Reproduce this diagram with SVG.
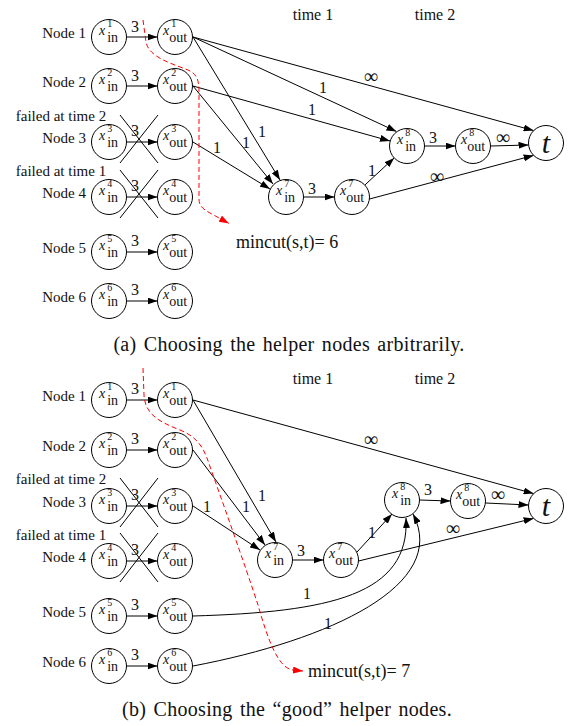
<svg xmlns="http://www.w3.org/2000/svg" width="574" height="726" viewBox="0 0 574 726">
<style>
text{font-family:"Liberation Serif","Times New Roman",serif;fill:#111}
.n circle{fill:#fff;stroke:#000;stroke-width:1}
.v{font-style:italic;font-size:14px}
.sp{font-size:10px}
.sb{font-size:14px}
.tt{font-style:italic;font-size:30px;text-anchor:middle}
.lr{font-size:15px;text-anchor:end}
.lm{font-size:15px;text-anchor:middle}
.tm{font-size:16px;text-anchor:middle}
.el{font-size:16px;text-anchor:middle}
.inf{font-size:20px;text-anchor:middle}
.mc{font-size:18px}
.cap{font-size:20px;text-anchor:middle;letter-spacing:0.3px;word-spacing:2px}
.e{fill:none;stroke:#000;stroke-width:1;marker-end:url(#ah)}
.x{stroke:#000;stroke-width:1}
.cut{fill:none;stroke:#f00;stroke-width:1;stroke-dasharray:5 3;marker-end:url(#rh)}
</style>
<defs>
<marker id="ah" markerUnits="userSpaceOnUse" markerWidth="10" markerHeight="7" refX="10" refY="3.5" orient="auto"><path d="M0,0 L10,3.5 L0,7 z" fill="#000"/></marker>
<marker id="rh" markerUnits="userSpaceOnUse" markerWidth="10" markerHeight="7" refX="10" refY="3.5" orient="auto"><path d="M0,0 L10,3.5 L0,7 z" fill="#f00"/></marker>
</defs>
<rect width="574" height="726" fill="#fff"/>

<!-- ===== Panel (a) ===== -->
<g id="a-labels">
<text class="tm" x="313" y="20">time 1</text>
<text class="tm" x="435" y="20">time 2</text>
<text class="lr" x="86" y="38">Node 1</text>
<text class="lr" x="86" y="87">Node 2</text>
<text class="lm" x="61" y="121">failed at time 2</text>
<text class="lr" x="86" y="143">Node 3</text>
<text class="lm" x="61" y="176">failed at time 1</text>
<text class="lr" x="86" y="198">Node 4</text>
<text class="lr" x="86" y="253">Node 5</text>
<text class="lr" x="86" y="302">Node 6</text>
<text class="mc" x="236" y="248">mincut(s,t)= 6</text>
<text class="cap" x="289" y="351">(a) Choosing the helper nodes arbitrarily.</text>
</g>

<g id="a-connectors">
<line class="e" x1="126.5" y1="37" x2="157.5" y2="37"/>
<line class="e" x1="126.5" y1="86" x2="157.5" y2="86"/>
<line class="e" x1="126.5" y1="142" x2="157.5" y2="142"/>
<line class="e" x1="126.5" y1="197" x2="157.5" y2="197"/>
<line class="e" x1="126.5" y1="252" x2="157.5" y2="252"/>
<line class="e" x1="126.5" y1="301" x2="157.5" y2="301"/>
<line class="e" x1="193" y1="37" x2="280" y2="180"/>
<line class="e" x1="193" y1="37" x2="396.5" y2="131.5"/>
<line class="e" x1="193" y1="37" x2="533.6" y2="130.6"/>
<line class="e" x1="193" y1="86" x2="273" y2="184"/>
<line class="e" x1="193" y1="86" x2="390" y2="141"/>
<line class="e" x1="193" y1="142" x2="270" y2="189"/>
<line class="e" x1="303.5" y1="197" x2="334.5" y2="197"/>
<line class="e" x1="364.8" y1="185.1" x2="394.2" y2="157.9"/>
<line class="e" x1="369.5" y1="199" x2="533.6" y2="155.4"/>
<line class="e" x1="424.5" y1="146" x2="455.5" y2="146"/>
<line class="e" x1="490.5" y1="146" x2="528.5" y2="145"/>
<line class="x" x1="120" y1="115" x2="158" y2="163"/>
<line class="x" x1="158" y1="115" x2="120" y2="163"/>
<line class="x" x1="120" y1="170" x2="158" y2="218"/>
<line class="x" x1="158" y1="170" x2="120" y2="218"/>
<path class="cut" d="M143,20 L146,42 C149,57 170,63 188,70 C197,74 199,80 199,92 L199,199 C199,206 203,209 210,213 L229,223.5"/>
<text class="el" x="135" y="32">3</text>
<text class="el" x="135" y="81">3</text>
<text class="el" x="135" y="136">3</text>
<text class="el" x="135" y="191">3</text>
<text class="el" x="135" y="246">3</text>
<text class="el" x="135" y="295">3</text>
<text class="inf" x="371" y="83">∞</text>
<text class="el" x="323" y="92.5">1</text>
<text class="el" x="262" y="136.5">1</text>
<text class="el" x="312" y="114.5">1</text>
<text class="el" x="246" y="147.5">1</text>
<text class="el" x="217" y="152.5">1</text>
<text class="el" x="312" y="193.5">3</text>
<text class="el" x="372" y="175.5">1</text>
<text class="inf" x="437" y="183">∞</text>
<text class="el" x="433" y="142.5">3</text>
<text class="inf" x="503" y="144">∞</text>
</g>

<g id="a-in1" class="n"><circle cx="109" cy="37" r="17.5"/><text x="99" y="35"><tspan class="v">x</tspan><tspan class="sp" dx="2" dy="-8">1</tspan><tspan class="sb" dx="-5" dy="15">in</tspan></text></g>
<g id="a-out1" class="n"><circle cx="175" cy="37" r="17.5"/><text x="163" y="35"><tspan class="v">x</tspan><tspan class="sp" dx="2" dy="-8">1</tspan><tspan class="sb" dx="-7" dy="15">out</tspan></text></g>
<g id="a-in2" class="n"><circle cx="109" cy="86" r="17.5"/><text x="99" y="84"><tspan class="v">x</tspan><tspan class="sp" dx="2" dy="-8">2</tspan><tspan class="sb" dx="-5" dy="15">in</tspan></text></g>
<g id="a-out2" class="n"><circle cx="175" cy="86" r="17.5"/><text x="163" y="84"><tspan class="v">x</tspan><tspan class="sp" dx="2" dy="-8">2</tspan><tspan class="sb" dx="-7" dy="15">out</tspan></text></g>
<g id="a-in3" class="n"><circle cx="109" cy="142" r="17.5"/><text x="99" y="140"><tspan class="v">x</tspan><tspan class="sp" dx="2" dy="-8">3</tspan><tspan class="sb" dx="-5" dy="15">in</tspan></text></g>
<g id="a-out3" class="n"><circle cx="175" cy="142" r="17.5"/><text x="163" y="140"><tspan class="v">x</tspan><tspan class="sp" dx="2" dy="-8">3</tspan><tspan class="sb" dx="-7" dy="15">out</tspan></text></g>
<g id="a-in4" class="n"><circle cx="109" cy="197" r="17.5"/><text x="99" y="195"><tspan class="v">x</tspan><tspan class="sp" dx="2" dy="-8">4</tspan><tspan class="sb" dx="-5" dy="15">in</tspan></text></g>
<g id="a-out4" class="n"><circle cx="175" cy="197" r="17.5"/><text x="163" y="195"><tspan class="v">x</tspan><tspan class="sp" dx="2" dy="-8">4</tspan><tspan class="sb" dx="-7" dy="15">out</tspan></text></g>
<g id="a-in5" class="n"><circle cx="109" cy="252" r="17.5"/><text x="99" y="250"><tspan class="v">x</tspan><tspan class="sp" dx="2" dy="-8">5</tspan><tspan class="sb" dx="-5" dy="15">in</tspan></text></g>
<g id="a-out5" class="n"><circle cx="175" cy="252" r="17.5"/><text x="163" y="250"><tspan class="v">x</tspan><tspan class="sp" dx="2" dy="-8">5</tspan><tspan class="sb" dx="-7" dy="15">out</tspan></text></g>
<g id="a-in6" class="n"><circle cx="109" cy="301" r="17.5"/><text x="99" y="299"><tspan class="v">x</tspan><tspan class="sp" dx="2" dy="-8">6</tspan><tspan class="sb" dx="-5" dy="15">in</tspan></text></g>
<g id="a-out6" class="n"><circle cx="175" cy="301" r="17.5"/><text x="163" y="299"><tspan class="v">x</tspan><tspan class="sp" dx="2" dy="-8">6</tspan><tspan class="sb" dx="-7" dy="15">out</tspan></text></g>
<g id="a-in7" class="n"><circle cx="286" cy="197" r="17.5"/><text x="276" y="195"><tspan class="v">x</tspan><tspan class="sp" dx="2" dy="-8">7</tspan><tspan class="sb" dx="-5" dy="15">in</tspan></text></g>
<g id="a-out7" class="n"><circle cx="352" cy="197" r="17.5"/><text x="340" y="195"><tspan class="v">x</tspan><tspan class="sp" dx="2" dy="-8">7</tspan><tspan class="sb" dx="-7" dy="15">out</tspan></text></g>
<g id="a-in8" class="n"><circle cx="407" cy="146" r="17.5"/><text x="397" y="144"><tspan class="v">x</tspan><tspan class="sp" dx="2" dy="-8">8</tspan><tspan class="sb" dx="-5" dy="15">in</tspan></text></g>
<g id="a-out8" class="n"><circle cx="473" cy="146" r="17.5"/><text x="461" y="144"><tspan class="v">x</tspan><tspan class="sp" dx="2" dy="-8">8</tspan><tspan class="sb" dx="-7" dy="15">out</tspan></text></g>
<g id="a-t" class="n"><circle cx="546" cy="143" r="17.5"/><text class="tt" x="546" y="153">t</text></g>

<!-- ===== Panel (b) ===== -->
<g id="b-labels">
<text class="tm" x="313" y="384">time 1</text>
<text class="tm" x="435" y="384">time 2</text>
<text class="lr" x="86" y="401">Node 1</text>
<text class="lr" x="86" y="451">Node 2</text>
<text class="lm" x="61" y="484">failed at time 2</text>
<text class="lr" x="86" y="507">Node 3</text>
<text class="lm" x="61" y="540">failed at time 1</text>
<text class="lr" x="86" y="562">Node 4</text>
<text class="lr" x="86" y="617">Node 5</text>
<text class="lr" x="86" y="667">Node 6</text>
<text class="mc" x="308" y="677">mincut(s,t)= 7</text>
<text class="cap" x="287" y="716">(b) Choosing the “good” helper nodes.</text>
</g>

<g id="b-connectors">
<line class="e" x1="126.5" y1="400" x2="157.5" y2="400"/>
<line class="e" x1="126.5" y1="450" x2="157.5" y2="450"/>
<line class="e" x1="126.5" y1="506" x2="157.5" y2="506"/>
<line class="e" x1="126.5" y1="561" x2="157.5" y2="561"/>
<line class="e" x1="126.5" y1="616" x2="157.5" y2="616"/>
<line class="e" x1="126.5" y1="666" x2="157.5" y2="666"/>
<line class="e" x1="193" y1="400" x2="276" y2="542"/>
<line class="e" x1="193" y1="400" x2="533.6" y2="493.6"/>
<line class="e" x1="193" y1="450" x2="265" y2="545"/>
<line class="e" x1="193" y1="506" x2="260" y2="550"/>
<line class="e" x1="292.5" y1="560" x2="323.5" y2="560"/>
<line class="e" x1="357" y1="552" x2="392" y2="514"/>
<line class="e" x1="358.5" y1="561" x2="533.6" y2="518.4"/>
<line class="e" x1="419.5" y1="500" x2="450.5" y2="501"/>
<line class="e" x1="485.5" y1="503" x2="528.5" y2="505"/>
<path class="e" d="M193,616 C330,612 410,595 406,518"/>
<path class="e" d="M193,666 C330,640 450,585 413,514"/>
<line class="x" x1="120" y1="478" x2="158" y2="527"/>
<line class="x" x1="158" y1="478" x2="120" y2="527"/>
<line class="x" x1="120" y1="533" x2="158" y2="582"/>
<line class="x" x1="158" y1="533" x2="120" y2="582"/>
<path class="cut" d="M143,368 L144,395 C145,415 160,422 180,430 C195,436 202,445 207,458 C220,495 245,565 258,605 C268,640 278,668 293,670 L303,671"/>
<text class="el" x="135" y="394">3</text>
<text class="el" x="135" y="444">3</text>
<text class="el" x="135" y="500">3</text>
<text class="el" x="135" y="555">3</text>
<text class="el" x="135" y="610">3</text>
<text class="el" x="135" y="660">3</text>
<text class="inf" x="371" y="446">∞</text>
<text class="el" x="262" y="500.5">1</text>
<text class="el" x="246" y="511.5">1</text>
<text class="el" x="207" y="511.5">1</text>
<text class="el" x="301" y="556">3</text>
<text class="el" x="372" y="538">1</text>
<text class="inf" x="453" y="535">∞</text>
<text class="el" x="428" y="494.5">3</text>
<text class="inf" x="498" y="501">∞</text>
<text class="el" x="307" y="598.5">1</text>
<text class="el" x="328" y="628.5">1</text>
</g>

<g id="b-in1" class="n"><circle cx="109" cy="400" r="17.5"/><text x="99" y="398"><tspan class="v">x</tspan><tspan class="sp" dx="2" dy="-8">1</tspan><tspan class="sb" dx="-5" dy="15">in</tspan></text></g>
<g id="b-out1" class="n"><circle cx="175" cy="400" r="17.5"/><text x="163" y="398"><tspan class="v">x</tspan><tspan class="sp" dx="2" dy="-8">1</tspan><tspan class="sb" dx="-7" dy="15">out</tspan></text></g>
<g id="b-in2" class="n"><circle cx="109" cy="450" r="17.5"/><text x="99" y="448"><tspan class="v">x</tspan><tspan class="sp" dx="2" dy="-8">2</tspan><tspan class="sb" dx="-5" dy="15">in</tspan></text></g>
<g id="b-out2" class="n"><circle cx="175" cy="450" r="17.5"/><text x="163" y="448"><tspan class="v">x</tspan><tspan class="sp" dx="2" dy="-8">2</tspan><tspan class="sb" dx="-7" dy="15">out</tspan></text></g>
<g id="b-in3" class="n"><circle cx="109" cy="506" r="17.5"/><text x="99" y="504"><tspan class="v">x</tspan><tspan class="sp" dx="2" dy="-8">3</tspan><tspan class="sb" dx="-5" dy="15">in</tspan></text></g>
<g id="b-out3" class="n"><circle cx="175" cy="506" r="17.5"/><text x="163" y="504"><tspan class="v">x</tspan><tspan class="sp" dx="2" dy="-8">3</tspan><tspan class="sb" dx="-7" dy="15">out</tspan></text></g>
<g id="b-in4" class="n"><circle cx="109" cy="561" r="17.5"/><text x="99" y="559"><tspan class="v">x</tspan><tspan class="sp" dx="2" dy="-8">4</tspan><tspan class="sb" dx="-5" dy="15">in</tspan></text></g>
<g id="b-out4" class="n"><circle cx="175" cy="561" r="17.5"/><text x="163" y="559"><tspan class="v">x</tspan><tspan class="sp" dx="2" dy="-8">4</tspan><tspan class="sb" dx="-7" dy="15">out</tspan></text></g>
<g id="b-in5" class="n"><circle cx="109" cy="616" r="17.5"/><text x="99" y="614"><tspan class="v">x</tspan><tspan class="sp" dx="2" dy="-8">5</tspan><tspan class="sb" dx="-5" dy="15">in</tspan></text></g>
<g id="b-out5" class="n"><circle cx="175" cy="616" r="17.5"/><text x="163" y="614"><tspan class="v">x</tspan><tspan class="sp" dx="2" dy="-8">5</tspan><tspan class="sb" dx="-7" dy="15">out</tspan></text></g>
<g id="b-in6" class="n"><circle cx="109" cy="666" r="17.5"/><text x="99" y="664"><tspan class="v">x</tspan><tspan class="sp" dx="2" dy="-8">6</tspan><tspan class="sb" dx="-5" dy="15">in</tspan></text></g>
<g id="b-out6" class="n"><circle cx="175" cy="666" r="17.5"/><text x="163" y="664"><tspan class="v">x</tspan><tspan class="sp" dx="2" dy="-8">6</tspan><tspan class="sb" dx="-7" dy="15">out</tspan></text></g>
<g id="b-in7" class="n"><circle cx="275" cy="560" r="17.5"/><text x="265" y="558"><tspan class="v">x</tspan><tspan class="sp" dx="2" dy="-8">7</tspan><tspan class="sb" dx="-5" dy="15">in</tspan></text></g>
<g id="b-out7" class="n"><circle cx="341" cy="560" r="17.5"/><text x="329" y="558"><tspan class="v">x</tspan><tspan class="sp" dx="2" dy="-8">7</tspan><tspan class="sb" dx="-7" dy="15">out</tspan></text></g>
<g id="b-in8" class="n"><circle cx="402" cy="500" r="17.5"/><text x="392" y="498"><tspan class="v">x</tspan><tspan class="sp" dx="2" dy="-8">8</tspan><tspan class="sb" dx="-5" dy="15">in</tspan></text></g>
<g id="b-out8" class="n"><circle cx="468" cy="501" r="17.5"/><text x="456" y="499"><tspan class="v">x</tspan><tspan class="sp" dx="2" dy="-8">8</tspan><tspan class="sb" dx="-7" dy="15">out</tspan></text></g>
<g id="b-t" class="n"><circle cx="546" cy="506" r="17.5"/><text class="tt" x="546" y="516">t</text></g>
</svg>
